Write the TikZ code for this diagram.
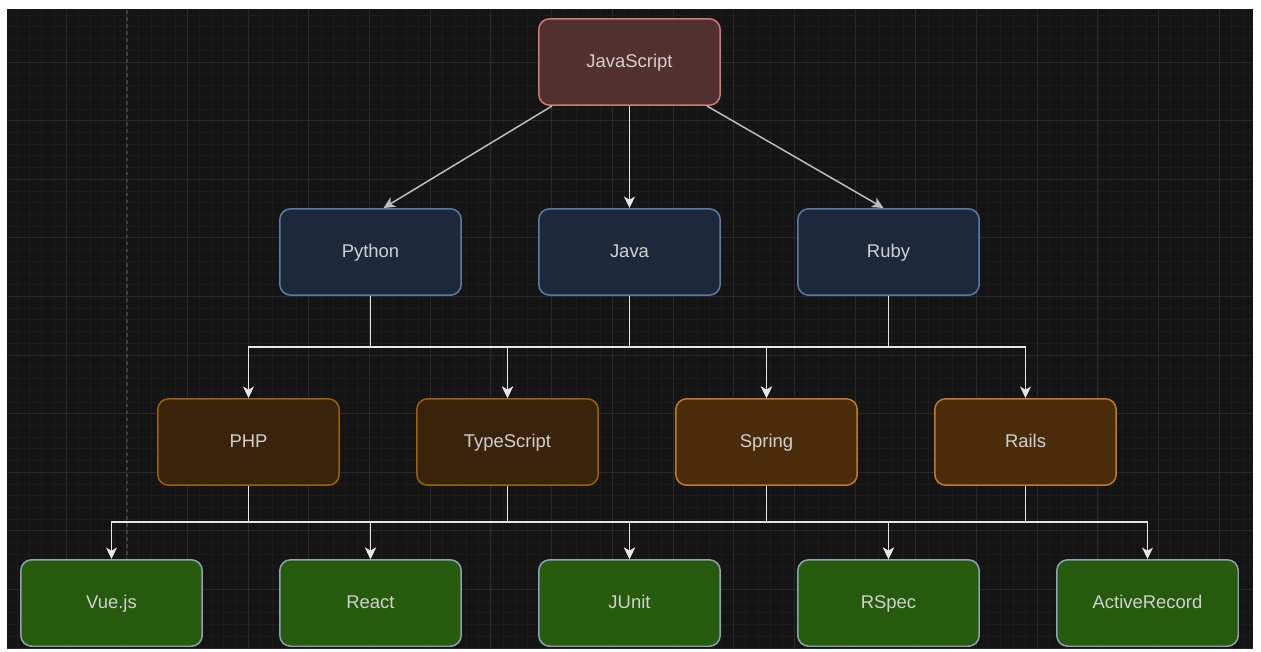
\documentclass[tikz,border=0pt]{standalone}
\usepackage{fontspec}
\setmainfont{Liberation Sans}
\usetikzlibrary{arrows.meta,calc}

\definecolor{canvas}{HTML}{141414}
\definecolor{gridminor}{HTML}{1B1B1B}
\definecolor{gridmajor}{HTML}{292929}
\definecolor{pageline}{HTML}{3E3E3E}
\definecolor{nodetext}{HTML}{D0D0D0}
\definecolor{edgeline}{HTML}{E6E6E6}
\definecolor{diagline}{HTML}{BDBDBD}
\definecolor{redfill}{HTML}{51302F}
\definecolor{redline}{HTML}{CC7A76}
\definecolor{bluefill}{HTML}{1D293B}
\definecolor{blueline}{HTML}{5A7BA8}
\definecolor{brownfill}{HTML}{3A230B}
\definecolor{brownline}{HTML}{9A6200}
\definecolor{orangefill}{HTML}{4A2C0B}
\definecolor{orangeline}{HTML}{C07A2E}
\definecolor{greenfill}{HTML}{265A0C}
\definecolor{greenline}{HTML}{8CA3B5}

\begin{document}
\begin{tikzpicture}[x=0.02cm, y=-0.02cm,
    every node/.style={font=\fontsize{10.5}{12}\selectfont, text=nodetext},
    box/.style={rounded corners=0.22cm, line width=0.85pt, minimum width=3.63cm, minimum height=1.73cm, inner sep=0pt, text height=1.6ex, text depth=0.4ex},
    redbox/.style={box, fill=redfill, draw=redline},
    bluebox/.style={box, fill=bluefill, draw=blueline},
    brownbox/.style={box, fill=brownfill, draw=brownline},
    orangebox/.style={box, fill=orangefill, draw=orangeline},
    greenbox/.style={box, fill=greenfill, draw=greenline},
    edge/.style={draw=edgeline, line width=0.85pt, -{Stealth[length=6.5pt,width=6.2pt,inset=1.8pt]}},
    diag/.style={edge, draw=diagline}
]

    % Canvas and margins
    \useasboundingbox[fill=white] (0,0) rectangle (1261,652);
    \fill[canvas] (7,9) rectangle (1253,649);

    % Grid
    \begin{scope}
        \clip (7,9) rectangle (1253,649);
        \foreach \i in {0,...,103} {
            \draw[gridminor, line width=0.4pt] ({5.3+12.14*\i},9) -- ({5.3+12.14*\i},649);
        }
        \foreach \j in {0,...,55} {
            \draw[gridminor, line width=0.4pt] (7,{3.4+11.72*\j}) -- (1253,{3.4+11.72*\j});
        }
        \foreach \i in {0,...,20} {
            \draw[gridmajor, line width=0.5pt] ({5.3+60.7*\i},9) -- ({5.3+60.7*\i},649);
        }
        \foreach \j in {0,...,11} {
            \draw[gridmajor, line width=0.5pt] (7,{3.4+58.6*\j}) -- (1253,{3.4+58.6*\j});
        }
        % Page break line
        \draw[pageline, line width=0.6pt, dash pattern=on 2pt off 2pt] (127,10) -- (127,646);
    \end{scope}

    % Top level
    \node[redbox] (js) at (629.5,62) {JavaScript};

    % Second level
    \node[bluebox] (py)   at (370.5,252) {Python};
    \node[bluebox] (java) at (629.5,252) {Java};
    \node[bluebox] (ruby) at (888.5,252) {Ruby};

    % Third level
    \node[brownbox]  (php)    at (248.5,442)  {PHP};
    \node[brownbox]  (ts)     at (507.5,442)  {TypeScript};
    \node[orangebox] (spring) at (766.5,442)  {Spring};
    \node[orangebox] (rails)  at (1025.5,442) {Rails};

    % Bottom level
    \node[greenbox] (vue)   at (111.5,603)  {Vue.js};
    \node[greenbox] (react) at (370.5,603)  {React};
    \node[greenbox] (junit) at (629.5,603)  {JUnit};
    \node[greenbox] (rspec) at (888.5,603)  {RSpec};
    \node[greenbox] (ar)    at (1147.5,603) {ActiveRecord};

    % Bus heights
    \coordinate (bus1) at (0,347);
    \coordinate (bus2) at (0,522);

    % Top to second level
    \draw[diag] ($(js.south west)+(14,0)$) -- ($(py.north)+(13,0)$);
    \draw[edge] (js) -- (java);
    \draw[diag] ($(js.south east)+(-14,0)$) -- ($(ruby.north)+(-5,0)$);

    % Second to third level
    \draw[edge] (py) -- (py |- bus1) -| (php);
    \draw[edge] (py) -- (py |- bus1) -| (ts);
    \draw[edge] (java) -- (java |- bus1) -| (ts);
    \draw[edge] (java) -- (java |- bus1) -| (spring);
    \draw[edge] (ruby) -- (ruby |- bus1) -| (spring);
    \draw[edge] (ruby) -- (ruby |- bus1) -| (rails);

    % Third to bottom level
    \draw[edge] (php) -- (php |- bus2) -| (vue);
    \draw[edge] (php) -- (php |- bus2) -| (react);
    \draw[edge] (ts) -- (ts |- bus2) -| (react);
    \draw[edge] (ts) -- (ts |- bus2) -| (junit);
    \draw[edge] (spring) -- (spring |- bus2) -| (junit);
    \draw[edge] (spring) -- (spring |- bus2) -| (rspec);
    \draw[edge] (rails) -- (rails |- bus2) -| (rspec);
    \draw[edge] (rails) -- (rails |- bus2) -| (ar);

\end{tikzpicture}
\end{document}
